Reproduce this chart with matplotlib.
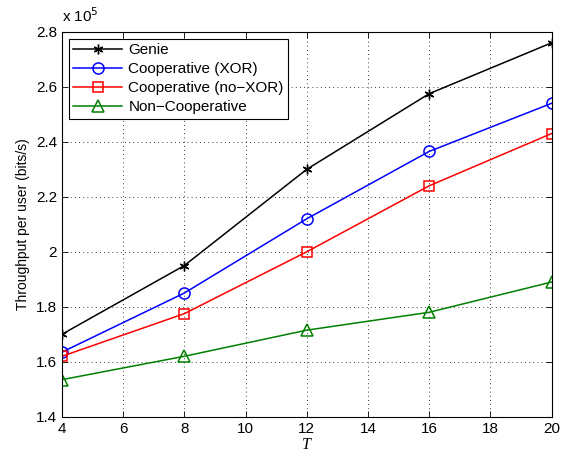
import matplotlib
matplotlib.use("Agg")
import matplotlib.pyplot as plt

plt.rcParams['font.family'] = ['Liberation Sans', 'DejaVu Sans']

T = [4, 8, 12, 16, 20]
genie = [1.70, 1.95, 2.30, 2.575, 2.76]
coop_xor = [1.635, 1.85, 2.12, 2.365, 2.54]
coop_noxor = [1.62, 1.775, 2.00, 2.24, 2.43]
noncoop = [1.535, 1.62, 1.715, 1.78, 1.89]
labels = ['Genie', 'Cooperative (XOR)', 'Cooperative (no\u2212XOR)', 'Non\u2212Cooperative']
xticks = [4, 6, 8, 10, 12, 14, 16, 18, 20]
yticks = [1.4, 1.6, 1.8, 2.0, 2.2, 2.4, 2.6, 2.8]
ytick_labels = ['1.4', '1.6', '1.8', '2', '2.2', '2.4', '2.6', '2.8']

fig = plt.figure(figsize=(5.68, 4.55), dpi=100)
ax = fig.add_axes([0.109, 0.084, 0.862, 0.846])

ax.plot(T, genie, color='black', marker=(6, 2, 0), markersize=7, lw=1.1, label=labels[0])
ax.plot(T, coop_xor, color='#0000ff', marker='o', markersize=8, mfc='none', mew=1.1, lw=1.1, label=labels[1])
ax.plot(T, coop_noxor, color='#ff0000', marker='s', markersize=7, mfc='none', mew=1.1, lw=1.1, label=labels[2])
ax.plot(T, noncoop, color='#008000', marker='^', markersize=8, mfc='none', mew=1.1, lw=1.1, label=labels[3])

ax.set_xlim(4, 20)
ax.set_ylim(1.4, 2.8)
ax.set_xticks(xticks)
ax.set_yticks(yticks)
ax.set_yticklabels(ytick_labels)
ax.tick_params(direction='in', top=True, right=True, labelsize=11, length=4, width=0.6)
ax.grid(True, linestyle=(0, (1, 4)), color='black', lw=0.6)
for s in ax.spines.values():
    s.set_linewidth(0.8)

fig.text(0.109, 0.945, r'x 10$^5$', fontsize=11, ha='left', va='bottom')

ax.set_xlabel('T', fontsize=11.5, family='Liberation Serif', style='italic', labelpad=1)
ax.set_ylabel('Throughput per user (bits/s)', fontsize=10)

leg = ax.legend(loc='upper left', fontsize=11, frameon=True, fancybox=False,
                edgecolor='black', framealpha=1, borderaxespad=0.45,
                handlelength=3.2, labelspacing=0.33, borderpad=0.3, handletextpad=0.4)
leg.get_frame().set_linewidth(0.8)

fig.savefig('out.png', dpi=100)
